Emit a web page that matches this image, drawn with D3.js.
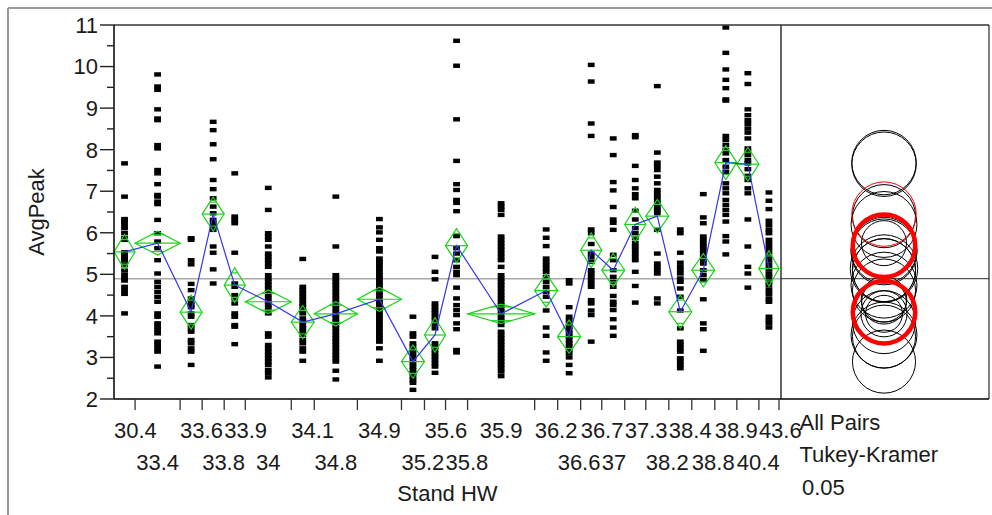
<!DOCTYPE html>
<html>
<head>
<meta charset="utf-8">
<script src="https://cdn.jsdelivr.net/npm/d3@7"></script>
<style>
  html, body { margin: 0; padding: 0; background: #fff; }
  svg { display: block; font-family: "Liberation Sans", Arial, sans-serif; }
</style>
</head>
<body>
<svg id="chart" width="992" height="515"></svg>
<script>
// Stand HW levels (x categories), in axis order
const standHW = ["30.4","33.4","33.6","33.8","33.9","34","34.1","34.8","34.9","35.2","35.6","35.8",
                 "35.9","36.2","36.6","36.7","37","37.3","38.2","38.4","38.8","38.9","40.4","43.6"];

// Number of observations in each level (sets the proportional group widths)
const counts = [22,47,23,23,22,48,24,45,46,24,22,23,70,24,24,22,24,22,24,24,24,23,23,21];

// Group means of AvgPeak
const means = [5.54,5.75,4.09,6.45,4.74,4.34,3.85,4.05,4.40,2.90,3.54,5.69,
               4.05,4.61,3.50,5.58,5.10,6.20,6.40,4.10,5.10,7.69,7.65,5.14];

// AvgPeak observations per level
const avgPeak = [
  [7.67,6.87,6.33,6.27,6.21,6.11,5.99,5.87,5.83,5.53,5.46,5.38,5.33,5.22,5.09,4.98,4.90,4.85,4.70,4.61,4.53,4.06],
  [9.81,9.52,9.44,8.97,8.75,8.71,8.11,8.03,7.51,7.43,7.17,6.91,6.87,6.75,6.69,6.31,5.99,5.79,5.63,5.34,5.02,4.82,
   4.70,4.58,4.46,4.34,4.06,3.98,3.82,3.74,3.66,3.58,3.38,3.30,3.22,3.14,2.78],
  [5.87,5.83,5.34,5.24,4.77,4.62,4.42,4.34,4.26,4.21,4.06,3.98,3.78,3.70,3.62,3.42,3.34,3.22,3.14,2.82],
  [8.67,8.47,8.13,7.77,7.27,7.05,6.83,6.63,6.47,6.31,6.23,6.15,6.07,5.67,5.52,5.12,4.78],
  [7.43,6.39,6.31,6.23,5.52,4.78,4.70,4.50,4.42,4.30,4.06,3.98,3.78,3.74,3.32],
  [7.08,6.55,5.99,5.91,5.83,5.67,5.50,5.42,5.34,5.26,5.18,4.98,4.90,4.82,4.74,4.66,4.58,4.50,4.42,4.34,4.26,
   4.18,4.06,3.58,3.50,3.30,3.22,3.14,3.06,2.98,2.90,2.82,2.70,2.62,2.52],
  [5.37,4.70,4.62,4.54,4.46,4.38,4.30,4.22,4.14,4.06,3.94,3.86,3.78,3.70,3.62,3.54,3.42,3.34,3.22,3.14,2.92],
  [6.87,5.67,4.98,4.90,4.82,4.74,4.66,4.58,4.50,4.42,4.34,4.26,4.18,4.10,4.02,3.94,3.86,3.78,3.70,3.62,3.54,
   3.46,3.38,3.30,3.22,3.14,3.06,2.98,2.90,2.68,2.47],
  [6.33,6.13,6.01,5.83,5.63,5.55,5.38,5.30,5.22,5.14,5.06,4.98,4.90,4.82,4.74,4.66,4.58,4.50,4.42,4.34,4.26,
   4.18,4.10,4.02,3.94,3.86,3.78,3.70,3.62,3.54,3.46,3.38,3.22,2.92],
  [3.98,3.58,3.50,3.34,3.26,3.18,3.10,3.02,2.94,2.86,2.78,2.70,2.62,2.54,2.46,2.39,2.22],
  [5.42,5.06,4.88,4.30,4.22,4.14,4.06,3.98,3.90,3.80,3.70,3.34,3.26,3.18,3.10,3.02,2.94,2.86,2.78,2.63],
  [10.62,10.02,8.73,7.73,7.17,7.03,6.79,6.72,6.52,5.92,5.63,5.50,5.34,5.18,5.06,4.98,4.68,4.42,4.26,4.14,
   4.02,3.82,3.68,3.18,3.12],
  [6.71,6.63,6.55,6.43,5.91,5.83,5.75,5.67,5.59,5.50,5.42,5.34,5.18,4.98,4.90,4.82,4.74,4.66,4.58,4.50,4.42,
   4.34,4.26,4.18,4.10,4.02,3.94,3.86,3.78,3.62,3.54,3.46,3.38,3.30,3.22,3.14,3.06,2.98,2.90,2.82,2.74,2.66,2.55],
  [6.08,5.88,5.68,5.38,5.30,5.22,5.14,5.06,4.94,4.82,4.70,4.58,4.46,4.13,3.72,3.52,3.12,2.92],
  [4.86,4.78,4.21,3.98,3.90,3.82,3.74,3.66,3.58,3.50,3.42,3.34,3.26,3.18,3.10,3.00,2.82,2.62],
  [10.04,9.64,8.63,8.33,6.08,5.99,5.73,5.50,5.41,5.30,5.10,5.02,4.94,4.86,4.78,4.70,4.38,4.30,4.13,4.02,3.38],
  [8.27,7.87,7.22,7.02,6.62,6.32,6.24,6.07,5.47,5.34,5.10,4.94,4.82,4.70,4.48,4.34,4.26,4.14,3.92,3.72,3.52],
  [8.35,8.30,7.61,7.27,7.07,6.93,6.83,6.53,6.32,6.11,5.99,5.87,5.75,5.67,5.59,5.50,5.42,5.34,5.06,4.72,4.32],
  [9.53,7.93,7.69,7.61,7.51,7.35,7.19,7.03,6.95,6.87,6.79,6.71,6.63,6.55,6.47,6.07,5.50,5.26,5.18,5.10,5.02,4.42,4.30],
  [6.08,5.99,5.52,5.28,5.18,5.10,5.02,4.90,4.82,4.66,4.46,4.13,3.70,3.38,3.30,3.22,3.14,2.98,2.90,2.82,2.74],
  [6.93,6.37,6.23,5.91,5.83,5.75,5.67,5.59,5.50,5.42,5.34,5.26,5.10,4.98,4.86,4.40,3.82,3.68,3.16],
  [10.94,10.33,9.93,9.68,9.48,9.21,9.18,8.33,8.23,8.11,7.99,7.91,7.75,7.59,7.47,7.19,7.07,6.95,6.79,6.67,6.55,
   6.43,6.27,5.92,5.79,5.48],
  [9.84,9.58,8.97,8.83,8.71,8.62,8.51,8.41,8.27,8.03,7.95,7.87,7.75,7.67,7.53,7.37,7.27,7.07,6.95,6.32,5.67,
   5.18,5.02,4.68],
  [6.97,6.77,6.57,6.29,6.19,6.08,5.99,5.83,5.73,5.63,5.53,5.42,5.33,5.22,5.12,5.02,4.93,4.82,4.73,4.62,4.53,
   4.42,4.34,3.98,3.90,3.82,3.72]
];

const yTicks = [2,3,4,5,6,7,8,9,10,11];
const yMinorTicks = [2.5,3.5,4.5,5.5,6.5,7.5,8.5,9.5,10.5];

// Fit statistics used by the means diamonds and comparison circles
const rootMSE = 1.0;
const tCrit = 1.96;
const qStar = 3.72;
const selectedLevels = ["35.8","33.6"];
const similarLevels = ["33.8"];

const sideLabels = ["All Pairs","Tukey-Kramer","0.05"];

// ---- layout ----
const W = 992, H = 515;
const plot = { left: 114, top: 25, right: 781, bottom: 399 };
const panelRight = 989;
const fontSize = 22;
const textColor = "#1a1a1a";

const svg = d3.select("#chart");

const N = d3.sum(counts);
const cum = d3.cumsum(counts);
const starts = counts.map((c, i) => cum[i] - c);

const x = d3.scaleLinear().domain([0, N]).range([plot.left, 779]);
const y = d3.scaleLinear().domain([2, 11]).range([plot.bottom, plot.top]);
const pxPerUnit = y(0) - y(1);

const groups = standHW.map((lvl, i) => ({
  level: lvl,
  n: counts[i],
  mean: means[i],
  x0: x(starts[i]),
  x1: x(cum[i]),
  cx: (x(starts[i]) + x(cum[i])) / 2,
  values: avgPeak[i]
}));

const grandMean = d3.sum(groups, g => g.n * g.mean) / N;

// outer frame
svg.append("line").attr("x1", 8).attr("x2", W).attr("y1", 8).attr("y2", 8)
  .attr("stroke", "#9a9a9a").attr("stroke-width", 2);
svg.append("line").attr("x1", 8).attr("x2", 8).attr("y1", 8).attr("y2", H)
  .attr("stroke", "#9a9a9a").attr("stroke-width", 2);

// grand mean reference line across the plot
svg.append("line")
  .attr("x1", plot.left).attr("x2", plot.right)
  .attr("y1", y(grandMean)).attr("y2", y(grandMean))
  .attr("stroke", "#a8a8a8").attr("stroke-width", 1.5);
svg.append("line")
  .attr("x1", plot.right).attr("x2", panelRight)
  .attr("y1", y(grandMean)).attr("y2", y(grandMean))
  .attr("stroke", "#555").attr("stroke-width", 1.3);

// observations
const pts = svg.append("g");
groups.forEach(g => {
  pts.selectAll(null).data(g.values).enter().append("rect")
    .attr("x", g.cx - 3.4).attr("y", d => y(d) - 2.2)
    .attr("width", 6.8).attr("height", 4.4)
    .attr("fill", "#000");
});

// means diamonds with overlap marks
const green = "#19d419";
const dia = svg.append("g").attr("fill", "none").attr("stroke", green).attr("stroke-width", 1.2);
groups.forEach(g => {
  const h = tCrit * rootMSE / Math.sqrt(g.n);
  const ym = y(g.mean), yt = y(g.mean + h), yb = y(g.mean - h);
  dia.append("path").attr("d", `M${g.x0},${ym}L${g.cx},${yt}L${g.x1},${ym}L${g.cx},${yb}Z`);
  dia.append("line").attr("x1", g.x0).attr("x2", g.x1).attr("y1", ym).attr("y2", ym);
  const k = 1 / Math.SQRT2;
  const halfW = (g.x1 - g.x0) / 2 * (1 - k);
  [g.mean + h * k, g.mean - h * k].forEach(v => {
    dia.append("line").attr("x1", g.cx - halfW).attr("x2", g.cx + halfW)
      .attr("y1", y(v)).attr("y2", y(v));
  });
});

// line connecting the means
svg.append("path")
  .datum(groups)
  .attr("fill", "none").attr("stroke", "#3434f5").attr("stroke-width", 1.2)
  .attr("d", d3.line().x(g => g.cx).y(g => y(g.mean)));

// frame of plot and comparison panel
const frame = svg.append("g").attr("stroke", "#333").attr("fill", "none");
frame.append("line").attr("x1", plot.left).attr("x2", panelRight).attr("y1", plot.top).attr("y2", plot.top).attr("stroke-width", 1.5);
frame.append("line").attr("x1", plot.right).attr("x2", plot.right).attr("y1", plot.top).attr("y2", plot.bottom).attr("stroke-width", 1.5);
frame.append("line").attr("x1", panelRight).attr("x2", panelRight).attr("y1", plot.top).attr("y2", plot.bottom).attr("stroke", "#000").attr("stroke-width", 1);
frame.append("line").attr("x1", plot.left).attr("x2", panelRight).attr("y1", plot.bottom).attr("y2", plot.bottom).attr("stroke", "#000").attr("stroke-width", 1.5);
frame.append("line").attr("x1", plot.left).attr("x2", plot.left).attr("y1", plot.top).attr("y2", plot.bottom).attr("stroke", "#000").attr("stroke-width", 1.5);

// y axis
const yAxis = svg.append("g");
yAxis.selectAll(null).data(yTicks).enter().append("line")
  .attr("x1", plot.left - 14).attr("x2", plot.left).attr("y1", d => y(d)).attr("y2", d => y(d))
  .attr("stroke", "#222").attr("stroke-width", 1.4);
yAxis.selectAll(null).data(yMinorTicks).enter().append("line")
  .attr("x1", plot.left - 7).attr("x2", plot.left).attr("y1", d => y(d)).attr("y2", d => y(d))
  .attr("stroke", "#222").attr("stroke-width", 1.4);
yAxis.selectAll(null).data(yTicks).enter().append("text")
  .attr("x", 98).attr("y", d => y(d)).attr("dy", "0.36em")
  .attr("text-anchor", "end").attr("font-size", fontSize).attr("fill", textColor)
  .text(d => d);

// x axis ticks at level boundaries
svg.append("g").selectAll(null).data(groups).enter().append("line")
  .attr("x1", g => g.x1).attr("x2", g => g.x1)
  .attr("y1", plot.bottom).attr("y2", plot.bottom + 11)
  .attr("stroke", "#333").attr("stroke-width", 1.3);

// x labels, staggered on two rows where they would collide
const rowY = [437.5, 469.5];
const xl = svg.append("g");
let prevEnd = -Infinity, prevRow = 1;
groups.forEach(g => {
  const t = xl.append("text").attr("font-size", fontSize).attr("fill", textColor).text(g.level);
  const w = t.node().getComputedTextLength();
  const sx = Math.max(g.x0, g.cx - w / 2);
  const row = sx < prevEnd + 3 ? 1 - prevRow : 0;
  t.attr("x", sx).attr("y", rowY[row]);
  prevEnd = sx + w; prevRow = row;
});

// axis titles
svg.append("text")
  .attr("x", (plot.left + plot.right) / 2).attr("y", 501)
  .attr("text-anchor", "middle").attr("font-size", fontSize).attr("fill", textColor)
  .text("Stand HW");
svg.append("text")
  .attr("transform", `translate(43.5,${(plot.top + plot.bottom) / 2}) rotate(-90)`)
  .attr("text-anchor", "middle").attr("font-size", fontSize).attr("fill", textColor)
  .text("AvgPeak");

// comparison circles
const ccx = (plot.right + panelRight) / 2 - 1;
const circ = svg.append("g").attr("fill", "none");
const radius = g => qStar * rootMSE / Math.sqrt(g.n) * pxPerUnit;
groups.filter(g => !selectedLevels.includes(g.level) && !similarLevels.includes(g.level))
  .forEach(g => circ.append("circle").attr("cx", ccx).attr("cy", y(g.mean)).attr("r", radius(g))
    .attr("stroke", "#000").attr("stroke-width", 1));
groups.filter(g => similarLevels.includes(g.level))
  .forEach(g => circ.append("circle").attr("cx", ccx).attr("cy", y(g.mean)).attr("r", radius(g))
    .attr("stroke", "#f00").attr("stroke-width", 1));
groups.filter(g => selectedLevels.includes(g.level))
  .forEach(g => circ.append("circle").attr("cx", ccx).attr("cy", y(g.mean)).attr("r", radius(g) - 1)
    .attr("stroke", "#f00").attr("stroke-width", 4.5));

// test labels under the panel
svg.append("g").selectAll(null).data(sideLabels).enter().append("text")
  .attr("x", (d, i) => i === 2 ? 802 : 799.5)
  .attr("y", (d, i) => [429.5, 462, 495][i])
  .attr("font-size", fontSize).attr("fill", textColor)
  .text(d => d);
</script>
</body>
</html>
